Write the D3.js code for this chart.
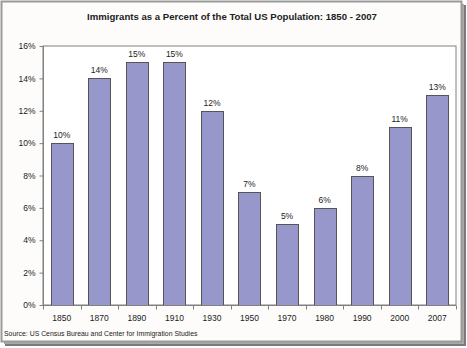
<!DOCTYPE html>
<html>
<head>
<meta charset="utf-8">
<script src="https://cdn.jsdelivr.net/npm/d3@7"></script>
<style>
  body { margin: 0; background: #fff; }
  text { font-family: "Liberation Sans", Arial, sans-serif; fill: #222; }
</style>
</head>
<body>
<div id="chart"></div>
<script>
var width = 467,
    height = 348;

var years = ["1850", "1870", "1890", "1910", "1930", "1950", "1970", "1980", "1990", "2000", "2007"];
var percents = [10, 14, 15, 15, 12, 7, 5, 6, 8, 11, 13];
var yTicks = [0, 2, 4, 6, 8, 10, 12, 14, 16];

var margin = {top: 46, right: 12, bottom: 43, left: 43};

var svg = d3.select("#chart").append("svg")
    .attr("width", width)
    .attr("height", height);

// drop shadow of the frame
svg.append("rect")
    .attr("x", 5).attr("y", 5)
    .attr("width", 461).attr("height", 341)
    .style("fill", "#7a7a7a");
svg.append("rect")
    .attr("x", 4).attr("y", 4)
    .attr("width", 460).attr("height", 340)
    .style("fill", "#aaa");

// frame
svg.append("rect")
    .attr("x", 1.5).attr("y", 1.5)
    .attr("width", 460).attr("height", 340)
    .style("fill", "#fdfcfa")
    .style("stroke", "#9a9a9a")
    .style("stroke-width", 2);

var x = d3.scaleBand()
    .domain(years)
    .range([0, 413])
    .paddingInner(0.41)
    .paddingOuter(0.205);

var y = d3.scaleLinear()
    .domain([0, 16])
    .range([259, 0]);

var g = svg.append("g")
    .attr("transform", "translate(" + margin.left + "," + margin.top + ")");

// plot area
g.append("rect")
    .attr("x", 0).attr("y", 0)
    .attr("width", 413).attr("height", 259)
    .style("fill", "#fff")
    .style("stroke", "#808080")
    .style("stroke-width", 1);

// bars
g.selectAll("rect.bar")
    .data(percents)
  .enter().append("rect")
    .attr("class", "bar")
    .attr("x", function(d, i) { return Math.round(x(years[i])) + 0.5; })
    .attr("y", function(d) { return Math.round(y(d)) + 0.5; })
    .attr("width", Math.round(x.bandwidth()))
    .attr("height", function(d) { return Math.round(y(0)) - Math.round(y(d)); })
    .style("fill", "#9797cb")
    .style("stroke", "#555")
    .style("stroke-width", 1);

// value labels
g.selectAll("text.val")
    .data(percents)
  .enter().append("text")
    .attr("class", "val")
    .attr("x", function(d, i) { return x(years[i]) + x.bandwidth() / 2; })
    .attr("y", function(d) { return y(d) - 5; })
    .attr("text-anchor", "middle")
    .style("font-size", "8.5px")
    .text(function(d) { return d + "%"; });

// y axis
var yAxis = d3.axisLeft(y)
    .tickValues(yTicks)
    .tickSize(4)
    .tickPadding(4)
    .tickFormat(function(d) { return d + "%"; });

var yg = g.append("g")
    .attr("transform", "translate(0.5,0)")
    .call(yAxis);
yg.selectAll("line, path").style("stroke", "#808080");
yg.select(".domain").attr("d", "M0,0V259");
yg.selectAll("text").style("font-size", "8.5px").style("font-family", "Liberation Sans, Arial, sans-serif").attr("fill", "#222");

// x axis
var xAxis = d3.axisBottom(x).tickSize(0).tickPadding(9);
var xg = g.append("g")
    .attr("transform", "translate(0," + 259.5 + ")")
    .call(xAxis);
xg.selectAll("line, path").style("stroke", "#808080");
xg.select(".domain").attr("d", "M0,0H413");
xg.selectAll("text").style("font-size", "8.5px").style("font-family", "Liberation Sans, Arial, sans-serif").attr("fill", "#222");

// tick marks between categories
var step = x.step();
xg.selectAll("line.sep")
    .data(d3.range(years.length + 1))
  .enter().append("line")
    .attr("class", "sep")
    .attr("x1", function(i) { return Math.round(i * step) + 0.5; })
    .attr("x2", function(i) { return Math.round(i * step) + 0.5; })
    .attr("y1", 0).attr("y2", 4)
    .style("stroke", "#808080");

// title
svg.append("text")
    .attr("x", 232)
    .attr("y", 20)
    .attr("text-anchor", "middle")
    .style("font-size", "9.6px")
    .style("font-weight", "bold")
    .text("Immigrants as a Percent of the Total US Population: 1850 - 2007");

// source
svg.append("text")
    .attr("x", 4)
    .attr("y", 336)
    .style("font-size", "6.9px")
    .text("Source:  US Census Bureau and Center for Immigration Studies");
</script>
</body>
</html>
